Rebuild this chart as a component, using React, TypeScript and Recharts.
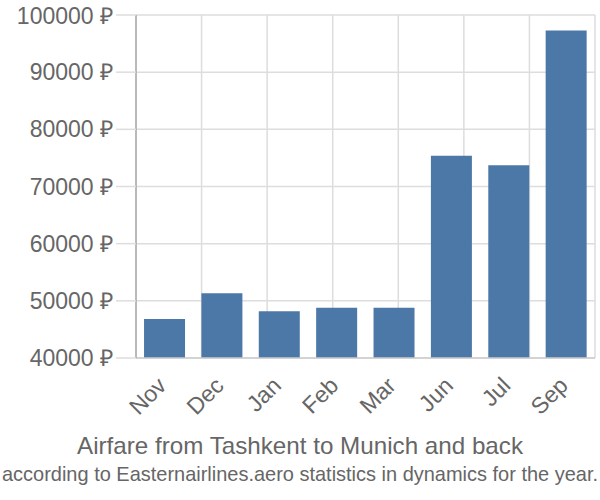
import React from 'react';
import { BarChart, Bar, XAxis, YAxis, CartesianGrid } from 'recharts';

const months = ['Nov', 'Dec', 'Jan', 'Feb', 'Mar', 'Jun', 'Jul', 'Sep'];
const prices = [46820, 51320, 48170, 48800, 48800, 75390, 73700, 97300];
const yTicks = [40000, 50000, 60000, 70000, 80000, 90000, 100000];
const gridTicks = [0, 1, 2, 3, 4, 5, 6, 7, 8];
const title = 'Airfare from Tashkent to Munich and back';
const subtitle = 'according to Easternairlines.aero statistics in dynamics for the year.';

const data = months.map((m, i) => ({ month: m, price: prices[i] }));

const FONT = '"Liberation Sans", Arial, sans-serif';

const MonthTick = (props: any) => {
  const { x, y, payload } = props;
  return (
    <text
      x={x + 3}
      y={y + 29}
      textAnchor="end"
      fill="#666"
      fontSize={23}
      fontFamily={FONT}
      transform={`rotate(-45, ${x + 3}, ${y + 29})`}
    >
      {payload.value}
    </text>
  );
};

export default function App() {
  return (
    <div style={{ position: 'absolute', left: 0, top: 0, width: 600, height: 500, fontFamily: FONT }}>
      <BarChart
        width={600}
        height={500}
        data={data}
        margin={{ top: 15, right: 5, left: 0, bottom: 82 }}
        barCategoryGap="14%"
      >
        <CartesianGrid xAxisId="grid" stroke="#ddd" strokeWidth={1.5} />
        <XAxis
          xAxisId="grid"
          type="number"
          domain={[0, 8]}
          ticks={gridTicks}
          height={0}
          axisLine={false}
          tickSize={20}
          tickLine={{ stroke: '#ddd', strokeWidth: 1.5 }}
          tick={() => <g />}
        />
        <XAxis
          xAxisId="cat"
          dataKey="month"
          height={60}
          axisLine={{ stroke: '#ccc', strokeWidth: 1.5 }}
          tickLine={false}
          tickSize={0}
          tickMargin={0}
          interval={0}
          tick={<MonthTick />}
        />
        <YAxis
          width={136}
          domain={[40000, 100000]}
          ticks={yTicks}
          allowDataOverflow
          tickSize={20}
          tickMargin={3}
          tickLine={{ stroke: '#ddd', strokeWidth: 1.5 }}
          axisLine={{ stroke: '#aaa', strokeWidth: 1.5 }}
          tick={{ fill: '#666', fontSize: 23, fontFamily: FONT }}
          tickFormatter={(v: number) => `${v} ₽`}
        />
        <Bar xAxisId="cat" dataKey="price" fill="#4c78a8" isAnimationActive={false} />
      </BarChart>
      <svg width={600} height={500} style={{ position: 'absolute', left: 0, top: 0, pointerEvents: 'none' }}>
        <text
          x={77}
          y={454}
          fill="#666"
          fontSize={24}
          fontFamily={FONT}
          textLength={446}
          lengthAdjust="spacingAndGlyphs"
        >
          {title}
        </text>
        <text
          x={2}
          y={481}
          fill="#666"
          fontSize={21}
          fontFamily={FONT}
          textLength={596}
          lengthAdjust="spacingAndGlyphs"
        >
          {subtitle}
        </text>
      </svg>
    </div>
  );
}
